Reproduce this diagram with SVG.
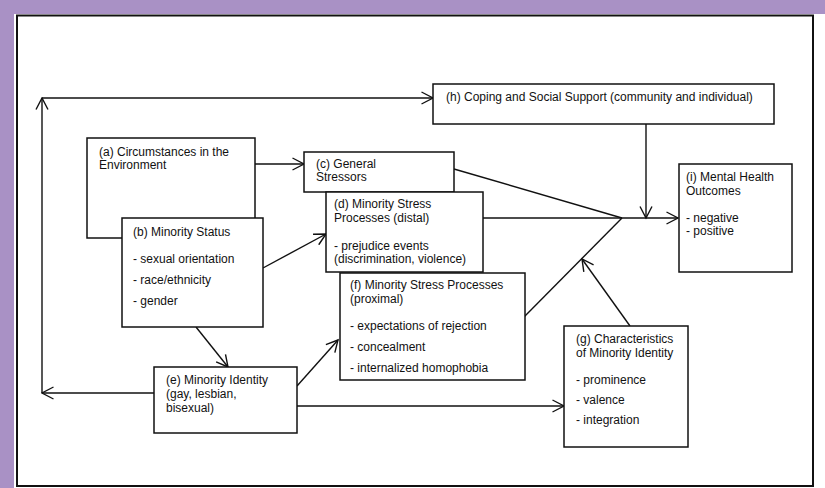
<svg xmlns="http://www.w3.org/2000/svg" width="825" height="488" viewBox="0 0 825 488">
<defs>
<style>
.bx{fill:#fff;stroke:#111;stroke-width:1.5}
.cn{fill:none;stroke:#111;stroke-width:1.4}
text{font-family:"Liberation Sans",Arial,Helvetica,sans-serif;font-size:12px;fill:#111}
</style>
<marker id="ah" viewBox="0 0 14 14" markerUnits="userSpaceOnUse" markerWidth="14" markerHeight="14" refX="12.5" refY="7" orient="auto">
<path d="M1,1 L12.5,7 L1,13" fill="none" stroke="#111" stroke-width="1.4"/>
</marker>
</defs>
<rect x="0" y="0" width="825" height="488" fill="#a991c5"/>
<rect x="14" y="14" width="811" height="474" fill="#fff"/>
<rect x="17" y="15.5" width="796" height="470.5" fill="none" stroke="#111" stroke-width="2"/>
<g id="connectors">
<line class="cn" x1="255" y1="164" x2="304" y2="164" marker-end="url(#ah)"/>
<line class="cn" x1="263" y1="268" x2="326" y2="234" marker-end="url(#ah)"/>
<line class="cn" x1="196" y1="327" x2="228" y2="367" marker-end="url(#ah)"/>
<line class="cn" x1="297" y1="386" x2="338" y2="340" marker-end="url(#ah)"/>
<line class="cn" x1="297" y1="406" x2="564" y2="406" marker-end="url(#ah)"/>
<line class="cn" x1="154" y1="393" x2="42" y2="393" marker-end="url(#ah)"/>
<line class="cn" x1="42" y1="393" x2="42" y2="98" marker-end="url(#ah)"/>
<line class="cn" x1="42" y1="98" x2="433" y2="98" marker-end="url(#ah)"/>
<line class="cn" x1="454" y1="169" x2="622" y2="218"/>
<line class="cn" x1="483" y1="218" x2="622" y2="218"/>
<line class="cn" x1="524" y1="317" x2="622" y2="218"/>
<line class="cn" x1="630" y1="326" x2="582" y2="259" marker-end="url(#ah)"/>
<line class="cn" x1="646" y1="124" x2="646" y2="218" marker-end="url(#ah)"/>
<line class="cn" x1="622" y1="218" x2="678" y2="218" marker-end="url(#ah)"/>
</g>
<g id="node-a">
<rect class="bx" x="87" y="138" width="168" height="100"/>
<text x="99" y="156">(a) Circumstances in the</text>
<text x="99" y="169">Environment</text>
</g>
<g id="node-b">
<rect class="bx" x="122" y="218" width="141" height="109"/>
<text x="133" y="236">(b) Minority Status</text>
<text x="133" y="263">- sexual orientation</text>
<text x="133" y="284">- race/ethnicity</text>
<text x="133" y="305">- gender</text>
</g>
<g id="node-c">
<rect class="bx" x="304" y="152" width="150" height="40"/>
<text x="316" y="168">(c) General</text>
<text x="316" y="181">Stressors</text>
</g>
<g id="node-d">
<rect class="bx" x="326" y="192" width="157" height="80"/>
<text x="334" y="208">(d) Minority Stress</text>
<text x="334" y="222">Processes (distal)</text>
<text x="334" y="250">- prejudice events</text>
<text x="334" y="263">(discrimination, violence)</text>
</g>
<g id="node-f">
<rect class="bx" x="340" y="273" width="185" height="107"/>
<text x="350" y="289">(f) Minority Stress Processes</text>
<text x="350" y="303">(proximal)</text>
<text x="350" y="330">- expectations of rejection</text>
<text x="350" y="351">- concealment</text>
<text x="350" y="372">- internalized homophobia</text>
</g>
<g id="node-e">
<rect class="bx" x="154" y="367" width="143" height="66"/>
<text x="166" y="384">(e) Minority Identity</text>
<text x="166" y="398">(gay, lesbian,</text>
<text x="166" y="412">bisexual)</text>
</g>
<g id="node-g">
<rect class="bx" x="564" y="326" width="124" height="121"/>
<text x="576" y="343">(g) Characteristics</text>
<text x="576" y="357">of Minority Identity</text>
<text x="576" y="384">- prominence</text>
<text x="576" y="404">- valence</text>
<text x="576" y="424">- integration</text>
</g>
<g id="node-h">
<rect class="bx" x="433" y="84" width="341" height="40"/>
<text x="446" y="101">(h) Coping and Social Support (community and individual)</text>
</g>
<g id="node-i">
<rect class="bx" x="679" y="164" width="113" height="108"/>
<text x="686" y="181">(i) Mental Health</text>
<text x="686" y="195">Outcomes</text>
<text x="686" y="222">- negative</text>
<text x="686" y="235">- positive</text>
</g>
</svg>
